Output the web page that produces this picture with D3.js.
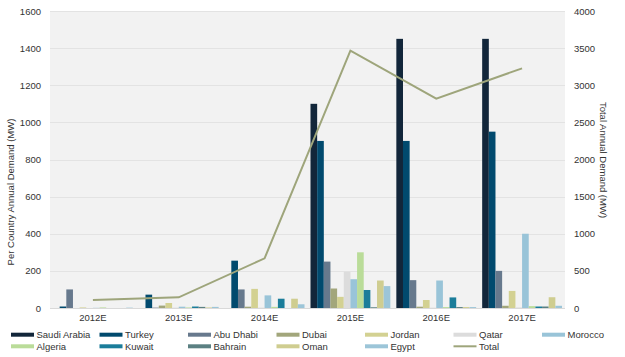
<!DOCTYPE html>
<html>
<head>
<meta charset="utf-8">
<script src="https://cdn.jsdelivr.net/npm/d3@7"></script>
<style>
  html, body { margin: 0; padding: 0; background: #fff; }
  svg { display: block; font-family: "Liberation Sans", Arial, sans-serif; }
</style>
</head>
<body>
<svg id="chart" width="625" height="357"></svg>
<script>
// ---- data ----
const years = ["2012E", "2013E", "2014E", "2015E", "2016E", "2017E"];
const seriesNames = ["Saudi Arabia", "Turkey", "Abu Dhabi", "Dubai", "Jordan", "Qatar",
                     "Morocco", "Algeria", "Kuwait", "Bahrain", "Oman", "Egypt"];
const saudiArabia = [0, 0, 0, 1100, 1450, 1450];
const turkey      = [8, 72, 255, 900, 900, 950];
const abuDhabi    = [100, 2, 100, 250, 150, 200];
const dubai       = [0, 13, 7, 105, 7, 12];
const jordan      = [3, 27, 103, 60, 43, 92];
const qatar       = [0, 2, 2, 195, 2, 3];
const morocco     = [1, 7, 68, 155, 148, 400];
const algeria     = [3, 3, 6, 300, 5, 10];
const kuwait      = [0, 8, 50, 97, 57, 8];
const bahrain     = [0, 6, 0, 4, 5, 8];
const oman        = [0, 3, 50, 148, 5, 58];
const egypt       = [2, 6, 20, 118, 5, 12];
const total       = [108, 144, 669, 3465, 2819, 3228];
const leftTicks  = [0, 200, 400, 600, 800, 1000, 1200, 1400, 1600];
const rightTicks = [0, 500, 1000, 1500, 2000, 2500, 3000, 3500, 4000];

const seriesValues = [saudiArabia, turkey, abuDhabi, dubai, jordan, qatar,
                      morocco, algeria, kuwait, bahrain, oman, egypt];
const colors = ["#12263a", "#014a6e", "#67798d", "#a2a67b", "#d3d192", "#dcdcdc",
                "#99c4d8", "#badc99", "#1b7d9a", "#5b8082", "#cfcd90", "#9cc5d8"];
const lineColor = "#9ea57b";

// ---- layout ----
const svg = d3.select("#chart");
const L = 50, R = 565, T = 11, B = 308;

const x0 = d3.scaleBand().domain(years).range([L, R]).paddingInner(0.07).paddingOuter(0.035);
const x1 = d3.scaleBand().domain(seriesNames).range([0, x0.bandwidth()]).padding(0);
const yL = d3.scaleLinear().domain([0, 1600]).range([B, T]);
const yR = d3.scaleLinear().domain([0, 4000]).range([B, T]);

// plot background
svg.append("rect").attr("x", L).attr("y", T).attr("width", R - L).attr("height", B - T)
  .attr("fill", "#f2f2f2");

// gridlines
svg.append("g").selectAll("line").data(leftTicks.slice(1)).join("line")
  .attr("x1", L).attr("x2", R)
  .attr("y1", d => Math.round(yL(d)) + 0.5).attr("y2", d => Math.round(yL(d)) + 0.5)
  .attr("stroke", "#e3e3e3").attr("stroke-width", 1);

// bars
const groups = svg.append("g").selectAll("g").data(years).join("g")
  .attr("transform", d => `translate(${x0(d)},0)`);
groups.selectAll("rect")
  .data((d, i) => seriesNames.map((s, j) => ({ s, j, v: seriesValues[j][i] })))
  .join("rect")
  .attr("x", d => x1(d.s))
  .attr("width", x1.bandwidth())
  .attr("y", d => yL(d.v))
  .attr("height", d => B - yL(d.v))
  .attr("fill", d => colors[d.j]);

// baseline
svg.append("line").attr("x1", L).attr("x2", R).attr("y1", B + 0.5).attr("y2", B + 0.5)
  .attr("stroke", "#d9d9d9");

// total line
const line = d3.line().x((d, i) => x0(years[i]) + x0.bandwidth() / 2).y(d => yR(d));
svg.append("path").datum(total).attr("d", line)
  .attr("fill", "none").attr("stroke", lineColor).attr("stroke-width", 2);

// axes
const fs = "9.5px", tc = "#333";
const fmt = d3.format("d");
const leftAxis = d3.axisLeft(yL).tickValues(leftTicks).tickFormat(fmt).tickSize(0).tickPadding(9);
const gL = svg.append("g").attr("transform", `translate(${L},0)`).call(leftAxis);
const rightAxis = d3.axisRight(yR).tickValues(rightTicks).tickFormat(fmt).tickSize(0).tickPadding(9);
const gR = svg.append("g").attr("transform", `translate(${R},0)`).call(rightAxis);
const bottomAxis = d3.axisBottom(x0).tickSize(0).tickPadding(6);
const gB = svg.append("g").attr("transform", `translate(0,${B})`).call(bottomAxis);
[gL, gR, gB].forEach(g => {
  g.select(".domain").remove();
  g.selectAll("text").attr("font-size", fs).attr("fill", tc)
    .attr("font-family", "'Liberation Sans', Arial, sans-serif");
});

// axis titles
svg.append("text").attr("transform", "translate(14,192) rotate(-90)")
  .attr("text-anchor", "middle").attr("font-size", fs).attr("fill", tc)
  .text("Per Country Annual Demand (MW)");
svg.append("text").attr("transform", "translate(600,160) rotate(90)")
  .attr("text-anchor", "middle").attr("font-size", fs).attr("fill", tc)
  .text("Total Annual Demand (MW)");

// legend
const legendItems = seriesNames.map((s, j) => ({ name: s, color: colors[j], type: "bar" }))
  .concat([{ name: "Total", color: lineColor, type: "line" }]);
const lg = svg.append("g");
legendItems.forEach((d, i) => {
  const col = i % 7, row = Math.floor(i / 7);
  const lx = 11 + col * 88.5, ly = 334.7 + row * 11.6;
  if (d.type === "bar") {
    lg.append("rect").attr("x", lx).attr("y", ly - 2).attr("width", 23).attr("height", 4)
      .attr("fill", d.color);
  } else {
    lg.append("line").attr("x1", lx).attr("x2", lx + 23).attr("y1", ly).attr("y2", ly)
      .attr("stroke", d.color).attr("stroke-width", 2);
  }
  lg.append("text").attr("x", lx + 25.5).attr("y", ly).attr("dy", "0.35em")
    .attr("font-size", fs).attr("fill", tc).text(d.name);
});
</script>
</body>
</html>
